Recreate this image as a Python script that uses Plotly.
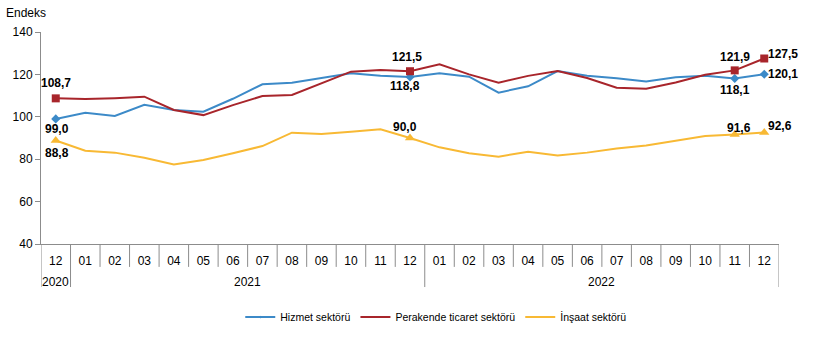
import plotly.graph_objects as go

# Monthly index values, Dec 2020 - Dec 2022
months = ["12", "01", "02", "03", "04", "05", "06", "07", "08", "09", "10", "11", "12",
          "01", "02", "03", "04", "05", "06", "07", "08", "09", "10", "11", "12"]
years = ["2020"] + ["2021"] * 12 + ["2022"] * 12

hizmet = [99.0, 101.9, 100.4, 105.7, 103.2, 102.4, 108.5, 115.3, 116.1, 118.2, 120.5, 119.4, 118.8,
          120.5, 118.9, 111.4, 114.4, 121.6, 119.4, 118.2, 116.6, 118.6, 119.4, 118.1, 120.1]
perakende = [108.7, 108.4, 108.8, 109.5, 103.2, 100.8, 105.5, 109.8, 110.3, 115.8, 121.3, 122.1, 121.5,
             124.8, 120.0, 116.1, 119.3, 121.6, 118.3, 113.7, 113.2, 116.2, 119.8, 121.9, 127.5]
insaat = [88.8, 84.0, 83.1, 80.7, 77.5, 79.6, 82.8, 86.2, 92.5, 91.9, 93.0, 94.1, 90.0,
          85.6, 82.8, 81.2, 83.5, 81.7, 83.1, 85.1, 86.5, 88.6, 90.9, 91.6, 92.6]

series_names = ["Hizmet sektörü", "Perakende ticaret sektörü", "İnşaat sektörü"]
labelled = [0, 12, 23, 24]

x = list(range(len(months)))

BLUE = "#3C8AC8"
RED = "#A8252B"
YELLOW = "#F8B934"
FONT = "Liberation Sans, Arial, sans-serif"

fig = go.Figure()


def sizes(sz):
    return [sz if i in labelled else 0 for i in x]


series = [
    (series_names[0], hizmet, BLUE, "diamond", 7),
    (series_names[1], perakende, RED, "square", 8),
    (series_names[2], insaat, YELLOW, "triangle-up", 9),
]
for name, vals, col, sym, sz in series:
    fig.add_trace(go.Scatter(
        x=x, y=vals, name=name, mode="lines+markers",
        line=dict(color=col, width=2),
        marker=dict(symbol=sym, size=sizes(sz), color=col, opacity=1, line=dict(width=0)),
        hoverinfo="skip",
    ))


def fmt(v):
    return f"{v:.1f}".replace(".", ",")


# value labels: (series values, index, xanchor, xshift, yshift)
label_spec = [
    (perakende, 0, "center", 0, 15), (hizmet, 0, "center", 1, -10), (insaat, 0, "center", 1, -12),
    (perakende, 12, "center", -3, 14), (hizmet, 12, "center", -5, -9), (insaat, 12, "center", -5, 11),
    (perakende, 23, "center", 0, 13), (hizmet, 23, "center", 0, -12), (insaat, 23, "center", 4, 7),
    (perakende, 24, "left", 2, 5), (hizmet, 24, "left", 2, 0), (insaat, 24, "left", 2, 6),
]
annotations = []
for vals, i, xa, xs, ys in label_spec:
    annotations.append(dict(
        x=i, y=vals[i], xref="x", yref="y", text="<b>" + fmt(vals[i]) + "</b>", showarrow=False,
        xanchor=xa, yanchor="middle", xshift=xs, yshift=ys,
        font=dict(family=FONT, size=12, color="#000000"),
    ))

# year group labels under the month labels
year_groups = []
for i, yv in enumerate(years):
    if not year_groups or year_groups[-1][0] != yv:
        year_groups.append([yv, i, i])
    else:
        year_groups[-1][2] = i
for yv, a, b in year_groups:
    annotations.append(dict(
        x=(a + b) / 2, y=-0.178, xref="x", yref="paper", text=yv, showarrow=False,
        xanchor="center", yanchor="middle",
        font=dict(family=FONT, size=12, color="#000000"),
    ))

annotations.append(dict(
    x=-0.05, y=1.09, xref="paper", yref="paper", text="Endeks", showarrow=False,
    xanchor="left", yanchor="middle",
    font=dict(family=FONT, size=12, color="#000000"),
))

# category separators: short between months, long at year boundaries
group_edges = {a for _, a, _ in year_groups} | {len(x)}
shapes = []
for k in range(len(x) + 1):
    long = k in group_edges
    shapes.append(dict(
        type="line", xref="x", yref="paper", x0=k - 0.5, x1=k - 0.5,
        y0=0, y1=-0.203 if long else -0.108,
        line=dict(color="#8C8C8C", width=1),
    ))

fig.update_layout(
    width=822, height=337,
    margin=dict(l=41, r=43, t=32, b=93, autoexpand=False),
    paper_bgcolor="white", plot_bgcolor="white",
    font=dict(family=FONT, size=12, color="#000000"),
    showlegend=True,
    legend=dict(
        orientation="h", x=0.27, y=0.059, xref="paper", yref="container",
        xanchor="left", yanchor="middle",
        font=dict(size=10.5), bgcolor="rgba(0,0,0,0)", itemwidth=30,
    ),
    xaxis=dict(
        range=[-0.5, len(x) - 0.5], tickmode="array", tickvals=x, ticktext=months,
        showgrid=False, zeroline=False, showline=True, linecolor="#8C8C8C", linewidth=1,
        ticks="", ticklabelstandoff=6, tickfont=dict(size=12),
    ),
    yaxis=dict(
        range=[40, 140], tickmode="array", tickvals=[40, 60, 80, 100, 120, 140],
        showgrid=False, zeroline=False, showline=True, linecolor="#8C8C8C", linewidth=1,
        ticks="outside", ticklen=5, tickcolor="#8C8C8C", tickfont=dict(size=12),
    ),
    annotations=annotations,
    shapes=shapes,
)

fig.write_html("out.html")
